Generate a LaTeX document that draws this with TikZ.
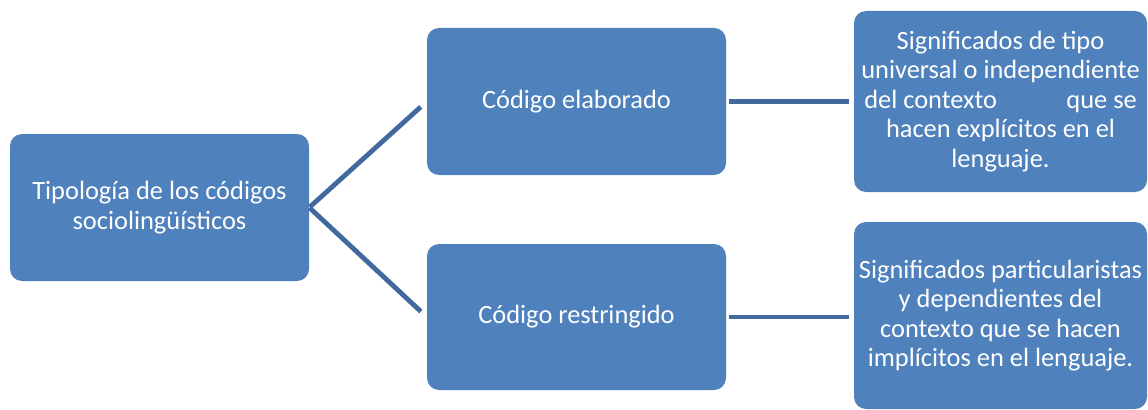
\documentclass[tikz,border=0pt]{standalone}
\usepackage{fontspec}
\setmainfont{Carlito}
\definecolor{boxblue}{HTML}{4F81BD}
\definecolor{lineblue}{HTML}{41699E}
\begin{document}
\begin{tikzpicture}[x=0.75pt,y=-0.75pt,
  box/.style={rectangle, rounded corners=9pt, fill=boxblue, draw=none,
    text=white, align=center, inner sep=0pt,
    font=\fontsize{19.8pt}{22.2pt}\selectfont},
  conn/.style={draw=lineblue, line width=3.6pt}]
\useasboundingbox (0,0) rectangle (1148,410);
\node[box, minimum width=224.25pt, minimum height=110.25pt] (A) at (159.5,207.5)
  {Tipología de los códigos\\sociolingüísticos};
\node[box, minimum width=224.25pt, minimum height=110.25pt] (B) at (576.5,101.5)
  {Código elaborado};
\node[box, minimum width=224.25pt, minimum height=109.5pt] (C) at (576.5,317)
  {Código restringido};
\node[box, minimum width=219.75pt, minimum height=135.75pt] (D) at (1000.5,101.5)
  {Significados de tipo\\universal o independiente\\del contexto\hspace{52pt}que se\\hacen explícitos en el\\lenguaje.};
\node[box, minimum width=219.75pt, minimum height=140.25pt] (E) at (1000.5,315.5)
  {Significados particularistas\\y dependientes del\\contexto que se hacen\\implícitos en el lenguaje.};
\draw[conn, shorten <=0.5pt, shorten >=6pt] (A.east) -- (B.west);
\draw[conn, shorten <=0.5pt, shorten >=6pt] (A.east) -- (C.west);
\draw[conn, shorten <=2.2pt, shorten >=3.8pt] (B.east) -- (B.east -| D.west);
\draw[conn, shorten <=2.2pt, shorten >=3.8pt] (C.east) -- (C.east -| E.west);
\end{tikzpicture}
\end{document}
